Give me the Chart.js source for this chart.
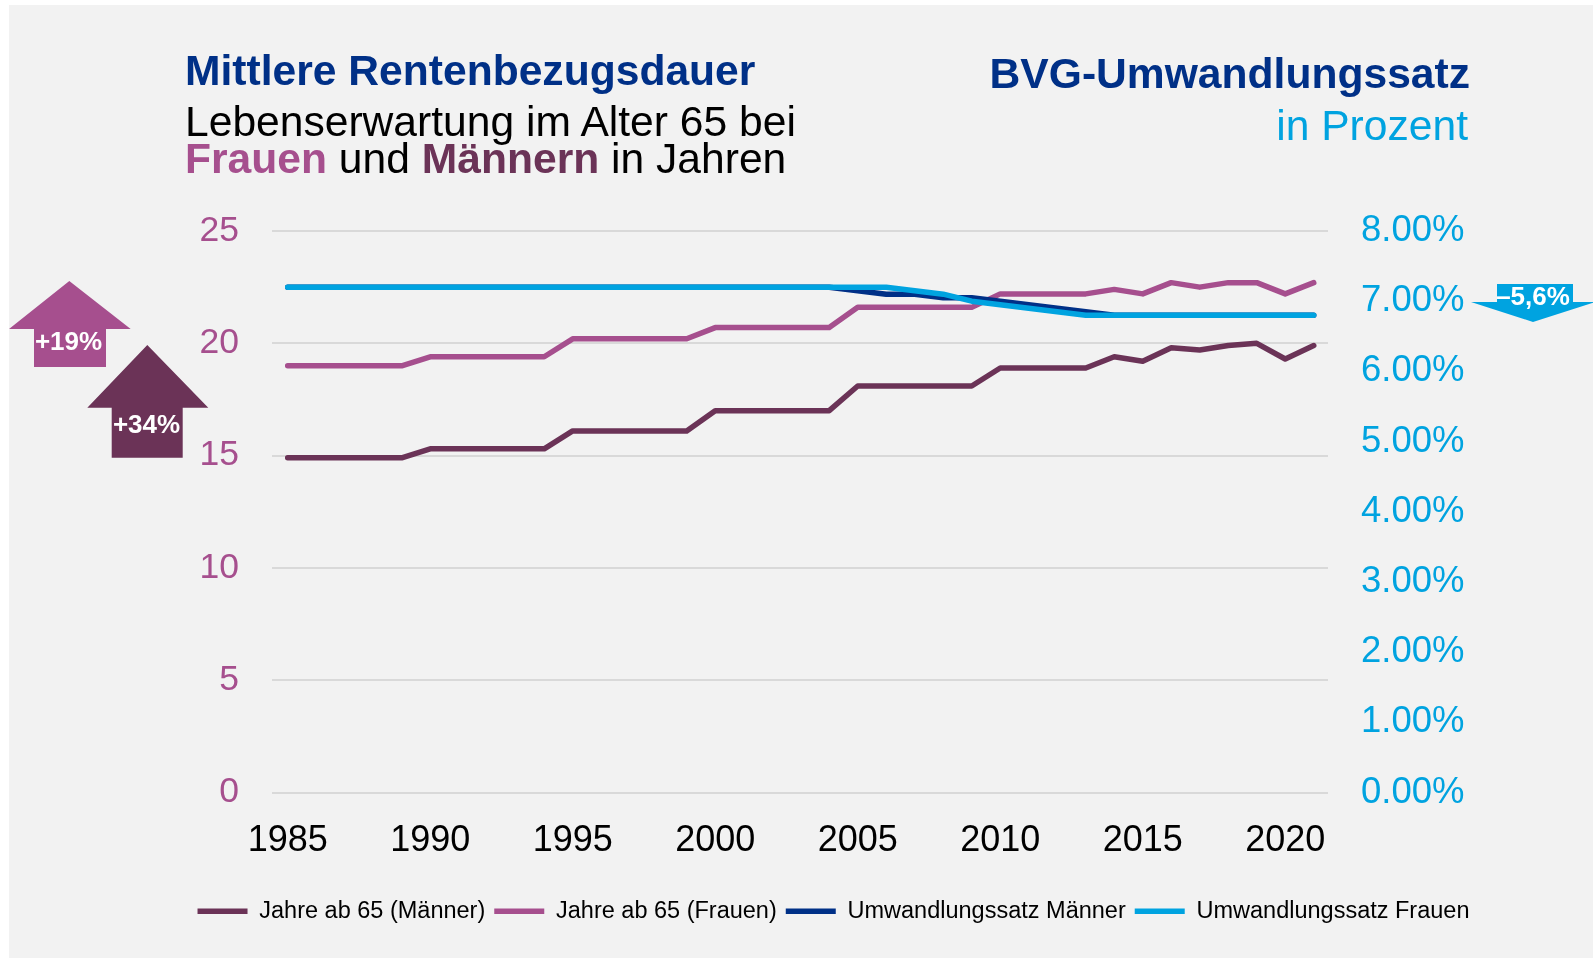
<!DOCTYPE html>
<html lang="de">
<head>
<meta charset="utf-8">
<title>Rentenbezugsdauer und BVG-Umwandlungssatz</title>
<script src="https://cdn.jsdelivr.net/npm/chart.js@4.4.1/dist/chart.umd.min.js"></script>
<style>
  html, body { margin: 0; padding: 0; background: #ffffff; }
  body { width: 1593px; height: 966px; position: relative; overflow: hidden; font-family: "Liberation Sans", Arial, sans-serif; }
  #panel { position: absolute; left: 9px; top: 5px; right: 0; bottom: 8px; background: #f2f2f2; }
  #chart { position: absolute; left: 0; top: 0; }
  .t { position: absolute; font-size: 42.6px; line-height: 42px; white-space: nowrap; }
  .navy { color: #003087; font-weight: bold; }
  #overlay { position: absolute; left: 0; top: 0; pointer-events: none; }
</style>
</head>
<body>
<div id="panel"></div>
<canvas id="chart" width="1593" height="966"></canvas>

<div class="t navy" style="left:185px; top:49px;">Mittlere Rentenbezugsdauer</div>
<div class="t" style="left:185px; top:100px; color:#000;">Lebenserwartung im Alter 65 bei</div>
<div class="t" style="left:185px; top:137px; color:#000;"><b style="color:#A64F8E">Frauen</b> und <b style="color:#6B3357">Männern</b> in Jahren</div>
<div class="t navy" style="right:123px; top:52px; text-align:right;">BVG-Umwandlungssatz</div>
<div class="t" style="right:125px; top:104px; color:#00A3E0; text-align:right;">in Prozent</div>

<svg id="overlay" width="1593" height="966" xmlns="http://www.w3.org/2000/svg">
  <polygon points="9,329 69.3,281 130.7,329 106,329 106,367 34,367 34,329" fill="#A64F8E"/>
  <text x="68.5" y="341" fill="#ffffff" font-family="Liberation Sans, Arial, sans-serif" font-weight="bold" font-size="26" text-anchor="middle" dominant-baseline="central">+19%</text>
  <polygon points="87.3,407.7 147.3,345 208.3,407.7 182.7,407.7 182.7,457.7 111.7,457.7 111.7,407.7" fill="#6B3357"/>
  <text x="146.5" y="423.5" fill="#ffffff" font-family="Liberation Sans, Arial, sans-serif" font-weight="bold" font-size="26" text-anchor="middle" dominant-baseline="central">+34%</text>
  <polygon points="1497,284 1573,284 1573,302 1595,302 1533,322 1471,302 1497,302" fill="#00A3E0"/>
  <text x="1533" y="296" fill="#ffffff" font-family="Liberation Sans, Arial, sans-serif" font-weight="bold" font-size="26" text-anchor="middle" dominant-baseline="central">–5,6%</text>
</svg>

<script>
// ---- data ----
const years = [1985, 1986, 1987, 1988, 1989, 1990, 1991, 1992, 1993, 1994,
               1995, 1996, 1997, 1998, 1999, 2000, 2001, 2002, 2003, 2004,
               2005, 2006, 2007, 2008, 2009, 2010, 2011, 2012, 2013, 2014,
               2015, 2016, 2017, 2018, 2019, 2020, 2021];
const tickYears = [1985, 1990, 1995, 2000, 2005, 2010, 2015, 2020];

// Lebenserwartung im Alter 65 (Jahre)
const jahreMaenner = [14.9, 14.9, 14.9, 14.9, 14.9, 15.3, 15.3, 15.3, 15.3, 15.3,
                      16.1, 16.1, 16.1, 16.1, 16.1, 17.0, 17.0, 17.0, 17.0, 17.0,
                      18.1, 18.1, 18.1, 18.1, 18.1, 18.9, 18.9, 18.9, 18.9, 19.4,
                      19.2, 19.8, 19.7, 19.9, 20.0, 19.3, 19.9];
const jahreFrauen  = [19.0, 19.0, 19.0, 19.0, 19.0, 19.4, 19.4, 19.4, 19.4, 19.4,
                      20.2, 20.2, 20.2, 20.2, 20.2, 20.7, 20.7, 20.7, 20.7, 20.7,
                      21.6, 21.6, 21.6, 21.6, 21.6, 22.2, 22.2, 22.2, 22.2, 22.4,
                      22.2, 22.7, 22.5, 22.7, 22.7, 22.2, 22.7];

// BVG-Umwandlungssatz (Prozent)
const umwMaenner = [7.2, 7.2, 7.2, 7.2, 7.2, 7.2, 7.2, 7.2, 7.2, 7.2,
                    7.2, 7.2, 7.2, 7.2, 7.2, 7.2, 7.2, 7.2, 7.2, 7.2,
                    7.15, 7.1, 7.1, 7.05, 7.05, 7.0, 6.95, 6.9, 6.85, 6.8,
                    6.8, 6.8, 6.8, 6.8, 6.8, 6.8, 6.8];
const umwFrauen  = [7.2, 7.2, 7.2, 7.2, 7.2, 7.2, 7.2, 7.2, 7.2, 7.2,
                    7.2, 7.2, 7.2, 7.2, 7.2, 7.2, 7.2, 7.2, 7.2, 7.2,
                    7.2, 7.2, 7.15, 7.1, 7.0, 6.95, 6.9, 6.85, 6.8, 6.8,
                    6.8, 6.8, 6.8, 6.8, 6.8, 6.8, 6.8];

const seriesNames = ['Jahre ab 65 (Männer)', 'Jahre ab 65 (Frauen)', 'Umwandlungssatz Männer', 'Umwandlungssatz Frauen'];
const seriesColors = ['#6B3357', '#A64F8E', '#003087', '#00A3E0'];

const FONT = '"Liberation Sans", Arial, sans-serif';
Chart.defaults.font.family = FONT;

function pts(vals) { return years.map((yr, i) => ({ x: yr, y: vals[i] })); }
function ds(i, vals, axis, order) {
  return {
    label: seriesNames[i], data: pts(vals), yAxisID: axis, order: order,
    borderColor: seriesColors[i], backgroundColor: seriesColors[i],
    borderWidth: 5.5, pointRadius: 0, pointHoverRadius: 0, tension: 0, fill: false,
    borderCapStyle: 'round', borderJoinStyle: 'round'
  };
}

new Chart(document.getElementById('chart'), {
  type: 'line',
  data: {
    datasets: [
      ds(0, jahreMaenner, 'y', 3),
      ds(1, jahreFrauen, 'y', 2),
      ds(2, umwMaenner, 'y1', 1),
      ds(3, umwFrauen, 'y1', 0)
    ]
  },
  options: {
    responsive: false,
    animation: false,
    devicePixelRatio: 1,
    layout: { padding: { left: 74, right: 0, top: 231, bottom: 33 } },
    plugins: {
      tooltip: { enabled: false },
      legend: {
        position: 'bottom',
        labels: {
          usePointStyle: true, pointStyle: 'line', pointStyleWidth: 50,
          padding: 9, color: '#000000', font: { family: FONT, size: 23.5 },
          sort: (a, b) => a.datasetIndex - b.datasetIndex
        }
      }
    },
    scales: {
      x: {
        type: 'linear', min: 1984.45, max: 2021.5,
        grid: { display: false }, border: { display: false },
        ticks: { padding: 19, color: '#000000', font: { size: 36 }, autoSkip: false, maxRotation: 0,
                 callback: v => String(v) },
        afterBuildTicks: s => { s.ticks = tickYears.map(v => ({ value: v })); },
        afterFit: s => { s.height = 98; }
      },
      y: {
        position: 'left', min: 0, max: 25,
        ticks: { stepSize: 5, padding: 33, color: '#A64F8E', font: { size: 35.5 } },
        grid: { color: '#d9d9d9', lineWidth: 2, drawTicks: false },
        border: { display: false },
        afterFit: s => { s.width = 198; }
      },
      y1: {
        position: 'right', min: 0, max: 8,
        ticks: { stepSize: 1, padding: 33, color: '#00A3E0', font: { size: 36.5 },
                 callback: v => v.toFixed(2) + '%' },
        grid: { display: false, drawTicks: false },
        border: { display: false },
        afterFit: s => { s.width = 265; }
      }
    }
  }
});
</script>
</body>
</html>
